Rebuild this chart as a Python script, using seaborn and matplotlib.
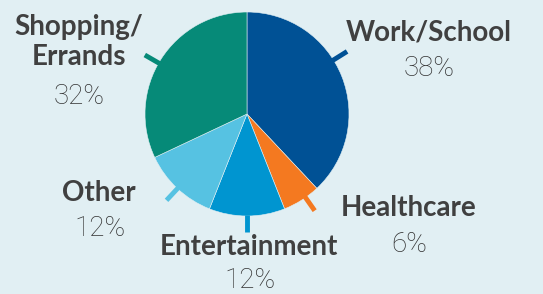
import numpy as np
import seaborn as sns
import matplotlib.pyplot as plt

# --- data ---
categories = ['Work/School', 'Healthcare', 'Entertainment', 'Other', 'Shopping/\nErrands']
shares = [38, 6, 12, 12, 32]
pct_labels = ['38%', '6%', '12%', '12%', '32%']
colors = ['#005195', '#f47920', '#0095d0', '#56c2e2', '#068a78']

# layout (pixel coords, y from top)
tick_angles = [32, -55, -90, -133, 150]
label_xy = [(429, 33), (409, 208), (249, 247), (99, 193), (79, 42)]
pct_xy = [(429, 69), (409, 245), (250, 280), (100, 228), (79, 96)]

bg = '#e1eff3'
txt = '#404040'

sns.set_theme(style='white')
plt.rcParams['font.family'] = ['Lato', 'DejaVu Sans']

W, H = 543, 294
fig = plt.figure(figsize=(W / 100, H / 100), dpi=100, facecolor=bg)
ax = fig.add_axes([0, 0, 1, 1])
ax.set_facecolor(bg)

cx, cy, r = 247, H - 114, 102
ax.pie(shares, colors=colors, startangle=90, counterclock=False,
       center=(cx, cy), radius=r,
       wedgeprops=dict(edgecolor=bg, linewidth=0.4))
ax.set_xlim(0, W)
ax.set_ylim(0, H)
ax.set_aspect('equal')
ax.axis('off')

# short leader ticks
for ang, c in zip(tick_angles, colors):
    a = np.deg2rad(ang)
    ax.plot([cx + (r - 1) * np.cos(a), cx + 118 * np.cos(a)],
            [cy + (r - 1) * np.sin(a), cy + 118 * np.sin(a)],
            color=c, lw=3.5, solid_capstyle='butt')

for lab, (x, y) in zip(categories, label_xy):
    ax.text(x, H - y, lab, ha='center', va='center', fontsize=20,
            fontweight='bold', color=txt, linespacing=1.2)
for p, (x, y) in zip(pct_labels, pct_xy):
    ax.text(x, H - y, p, ha='center', va='center', fontsize=20,
            family=['Roboto', 'DejaVu Sans'], fontweight='light', color='#333333')

fig.savefig('out.png', dpi=100, facecolor=bg)
